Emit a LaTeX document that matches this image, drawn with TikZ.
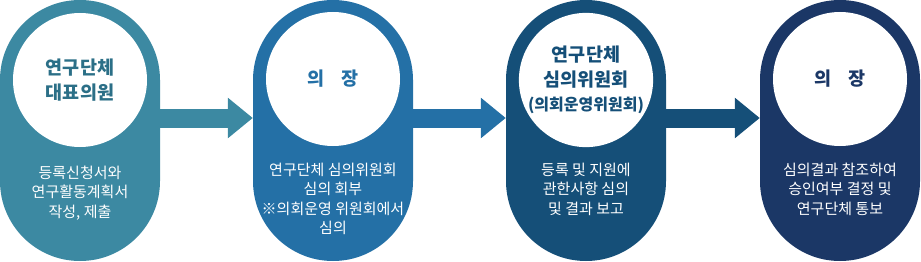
\documentclass[tikz,border=0pt]{standalone}
\usepackage{fontspec}
\setmainfont{Noto Sans CJK KR}
\usetikzlibrary{arrows.meta}
\definecolor{stepA}{HTML}{3C89A2}
\definecolor{stepB}{HTML}{2470A6}
\definecolor{stepC}{HTML}{154F78}
\definecolor{stepD}{HTML}{1B3766}
\definecolor{headA}{HTML}{2B6F87}
\begin{document}
\begin{tikzpicture}[x=1pt,y=-1pt,
    pill/.style={fill=#1, minimum width=160pt, minimum height=261pt,
      rounded corners=79.9pt, inner sep=0pt},
    disc/.style={circle, fill=white, minimum size=134pt, inner sep=0pt,
      align=center, text=#1, font=\bfseries\fontsize{18.5}{24.5}\selectfont},
    note/.style={anchor=north, inner sep=0pt, align=center, text=white,
      font=\fontsize{15}{19.3}\selectfont},
    flow/.style={draw=#1, line width=19pt, -{Triangle[width=39pt,length=25pt]}}]
  \useasboundingbox (0,0) rectangle (921,262);
  % the four stages
  \node[pill=stepA] (p1) at (80,130.5) {};
  \node[pill=stepB] (p2) at (333,130.5) {};
  \node[pill=stepC] (p3) at (586,130.5) {};
  \node[pill=stepD] (p4) at (840,130.5) {};
  % who acts
  \node[disc=headA] (c1) at (80,80) {연구단체\\대표의원};
  \node[disc=stepB] (c2) at (333,79) {의\hspace{0.9em}장};
  \node[disc=stepC] (c3) at (586,80) {연구단체\\심의위원회\\{\fontsize{16}{24.5}\selectfont(의회운영위원회)}};
  \node[disc=stepD] (c4) at (840,79) {의\hspace{0.9em}장};
  % what is done
  \node[note] (n1) at (80,166) {등록신청서와\\연구활동계획서\\작성, 제출};
  \node[note] (n2) at (333,163) {연구단체 심의위원회\\심의 회부\\※의회운영 위원회에서\\심의};
  \node[note] (n3) at (586,163) {등록 및 지원에\\관한사항 심의\\및 결과 보고};
  \node[note] (n4) at (840,163) {심의결과 참조하여\\승인여부 결정 및\\연구단체 통보};
  % arrows between stages
  \draw[flow=stepA] ([yshift=12.5pt]p1.east) -- ([yshift=12.5pt]p2.west);
  \draw[flow=stepB] ([yshift=12.5pt]p2.east) -- ([yshift=12.5pt]p3.west);
  \draw[flow=stepC] ([yshift=12.5pt]p3.east) -- ([yshift=12.5pt]p4.west);
\end{tikzpicture}
\end{document}
